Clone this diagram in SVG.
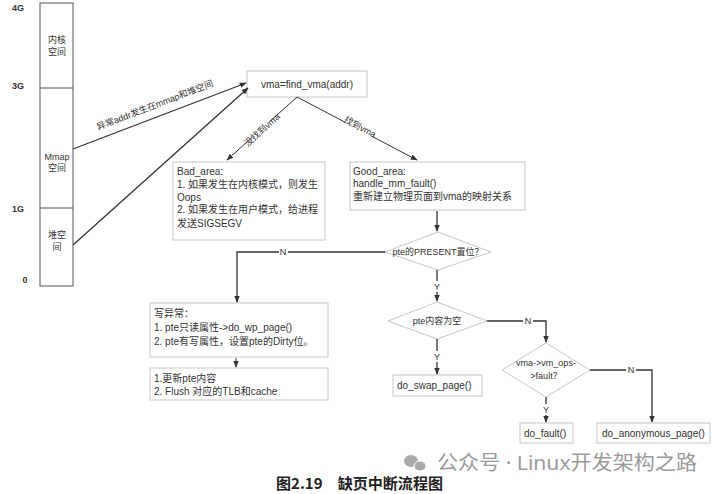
<svg xmlns="http://www.w3.org/2000/svg" width="720" height="494" viewBox="0 0 720 494">
<defs>
<marker id="ah" viewBox="0 0 10 10" refX="9" refY="5" markerWidth="7" markerHeight="7" orient="auto" markerUnits="userSpaceOnUse">
<path d="M0,1 L10,5 L0,9 z" fill="#333"/>
</marker>
<style>
text{font-family:"Liberation Sans","Noto Sans CJK SC",sans-serif;fill:#333;font-size:10px}
.box{fill:#fff;stroke:#c8c8c8;stroke-width:1}
.col{fill:#fff;stroke:#555;stroke-width:1}
.ln{fill:none;stroke:#333;stroke-width:1.3}
.thin{fill:none;stroke:#333;stroke-width:1}
.c{text-anchor:middle}
.sc{font-size:9px;font-weight:bold}
.sm{font-size:9px}
.lab{font-size:9px}
</style>
</defs>
<rect width="720" height="494" fill="#fff"/>

<g id="scale">
<text x="18" y="11" class="sc c">4G</text>
<text x="18" y="89" class="sc c">3G</text>
<text x="18" y="212" class="sc c">1G</text>
<text x="25" y="283" class="sc c">0</text>
</g>

<g id="memory-column">
<rect x="40" y="3" width="33" height="283" class="col"/>
<line x1="40" y1="88" x2="73" y2="88" stroke="#555"/>
<line x1="40" y1="208" x2="73" y2="208" stroke="#555"/>
<text x="57" y="43" class="sm c">内核</text>
<text x="57" y="55" class="sm c">空间</text>
<text x="57" y="160" class="sm c">Mmap</text>
<text x="57" y="171" class="sm c">空间</text>
<text x="57" y="238" class="sm c">堆空</text>
<text x="57" y="250" class="sm c">间</text>
</g>

<g id="find_vma">
<rect x="247" y="71" width="120" height="26" class="box"/>
<text x="307" y="88" class="c">vma=find_vma(addr)</text>
</g>

<g id="bad_area">
<rect x="173" y="162" width="152" height="78" class="box"/>
<text x="177" y="175">Bad_area:</text>
<text x="177" y="188">1. 如果发生在内核模式，则发生</text>
<text x="177" y="201">Oops</text>
<text x="177" y="213">2. 如果发生在用户模式，给进程</text>
<text x="177" y="227">发送SIGSEGV</text>
</g>

<g id="good_area">
<rect x="350" y="162" width="175" height="48" class="box"/>
<text x="353" y="175">Good_area:</text>
<text x="353" y="187">handle_mm_fault()</text>
<text x="353" y="200">重新建立物理页面到vma的映射关系</text>
</g>

<g id="present">
<polygon points="385,252 438,232 491,252 438,270" class="box"/>
<text x="438" y="255" class="sm c">pte的PRESENT置位？</text>
</g>

<g id="pte_empty">
<polygon points="388,321 437,302 487,321 437,339" class="box"/>
<text x="437" y="324" class="sm c">pte内容为空</text>
</g>

<g id="do_swap_page">
<rect x="393" y="375" width="89" height="21" class="box"/>
<text x="397" y="389">do_swap_page()</text>
</g>

<g id="vm_ops_fault">
<polygon points="502,370 546,343 590,370 546,397" class="box"/>
<text x="546" y="366" class="sm c">vma-&gt;vm_ops-</text>
<text x="546" y="379" class="sm c">&gt;fault？</text>
</g>

<g id="do_fault">
<rect x="520" y="423" width="53" height="20" class="box"/>
<text x="524" y="437">do_fault()</text>
</g>

<g id="do_anonymous_page">
<rect x="597" y="423" width="113" height="20" class="box"/>
<text x="602" y="437">do_anonymous_page()</text>
</g>

<g id="write_fault">
<rect x="150" y="303" width="178" height="54" class="box"/>
<text x="154" y="317">写异常：</text>
<text x="154" y="331">1. pte只读属性-&gt;do_wp_page()</text>
<text x="154" y="345">2. pte有写属性，设置pte的Dirty位。</text>
</g>

<g id="update_pte">
<rect x="150" y="368" width="178" height="32" class="box"/>
<text x="154" y="382">1.更新pte内容</text>
<text x="154" y="395">2. Flush 对应的TLB和cache</text>
</g>

<g id="connectors">
<line x1="73" y1="149" x2="246" y2="83" class="ln" marker-end="url(#ah)"/>
<line x1="73" y1="245" x2="248" y2="88" class="ln" marker-end="url(#ah)"/>
<text x="156" y="108" class="lab c" transform="rotate(-21 156 108)">异常addr发生在mmap和堆空间</text>

<line x1="297" y1="97" x2="227" y2="160" class="thin" marker-end="url(#ah)"/>
<rect x="250" y="122" width="24" height="16" fill="#fff" transform="rotate(-42 262 130)"/>
<text x="262" y="133" class="lab c" transform="rotate(-42 262 130)">没找到vma</text>
<line x1="297" y1="97" x2="417" y2="160" class="thin" marker-end="url(#ah)"/>
<rect x="345" y="120" width="30" height="13" fill="#fff" transform="rotate(28 360 127)"/>
<text x="360" y="130" class="lab c" transform="rotate(28 360 127)">找到vma</text>

<line x1="437" y1="211" x2="437" y2="231" class="ln" marker-end="url(#ah)"/>

<polyline points="385,252 237,252 237,302" class="ln" marker-end="url(#ah)"/>
<rect x="279" y="247" width="9" height="10" fill="#fff"/>
<text x="283" y="255" class="lab c">N</text>

<line x1="236" y1="358" x2="236" y2="367" class="thin" marker-end="url(#ah)"/>

<line x1="437" y1="270" x2="437" y2="301" class="ln" marker-end="url(#ah)"/>
<rect x="432" y="281" width="10" height="11" fill="#fff"/>
<text x="437" y="290" class="lab c">Y</text>

<line x1="437" y1="339" x2="437" y2="374" class="ln" marker-end="url(#ah)"/>
<rect x="432" y="351" width="10" height="11" fill="#fff"/>
<text x="437" y="360" class="lab c">Y</text>

<polyline points="487,321 546,321 546,342" class="ln" marker-end="url(#ah)"/>
<rect x="523" y="316" width="10" height="10" fill="#fff"/>
<text x="528" y="324" class="lab c">N</text>

<line x1="546" y1="397" x2="546" y2="422" class="ln" marker-end="url(#ah)"/>
<rect x="541" y="404" width="10" height="11" fill="#fff"/>
<text x="546" y="413" class="lab c">Y</text>

<polyline points="590,370 652,370 652,422" class="ln" marker-end="url(#ah)"/>
<rect x="626" y="365" width="10" height="10" fill="#fff"/>
<text x="631" y="373" class="lab c">N</text>
</g>

<g id="watermark">
<ellipse cx="411" cy="461" rx="7" ry="6" fill="#aaa"/>
<ellipse cx="420" cy="466" rx="6" ry="5" fill="#aaa" stroke="#fff" stroke-width="1"/>
<text x="437" y="470" textLength="260" lengthAdjust="spacingAndGlyphs" style="font-size:20px;fill:#9a9a9a;font-family:'Noto Sans','Noto Sans CJK SC',sans-serif">公众号 · Linux开发架构之路</text>
</g>

<g id="caption">
<text x="276" y="489" textLength="167" lengthAdjust="spacingAndGlyphs" style="font-size:15px;font-weight:bold;fill:#222;font-family:'Noto Sans CJK SC',sans-serif">图2.19　缺页中断流程图</text>
</g>
</svg>
